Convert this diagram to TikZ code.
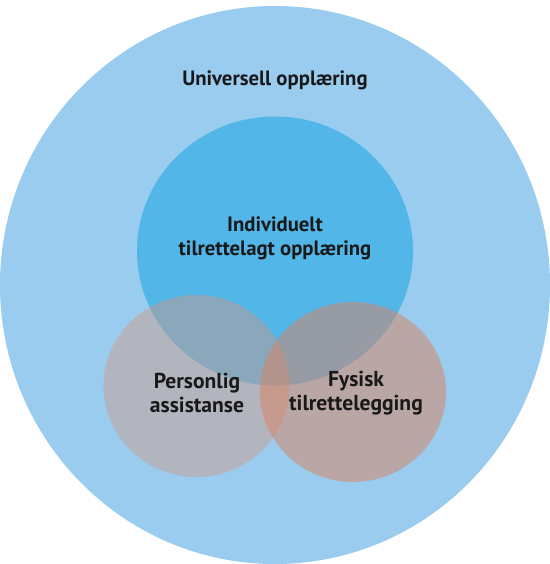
\documentclass[tikz,border=0pt]{standalone}
\usepackage{fontspec}
\setmainfont{PT Sans}
\definecolor{outerblue}{RGB}{153,204,238}
\definecolor{midblue}{RGB}{82,182,232}
\definecolor{leftsalmon}{RGB}{210,150,130}
\definecolor{rightsalmon}{RGB}{221,130,96}
\begin{document}
\begin{tikzpicture}[x=0.02cm,y=-0.02cm, every node/.style={font=\bfseries\fontsize{11.8}{13.8}\selectfont, text=black!90, align=center},lab/.style={},small/.style={font=\bfseries\fontsize{12.3}{13.8}\selectfont},]
\useasboundingbox (0,0) rectangle (550,564);
\fill[outerblue] (275,285) ellipse [x radius=275, y radius=279];
\fill[midblue] (275,251) ellipse [x radius=138, y radius=134.5];
\fill[leftsalmon, fill opacity=0.44] (196.5,386) ellipse [x radius=93, y radius=91];
\fill[rightsalmon, fill opacity=0.5] (353,392) ellipse [x radius=93, y radius=90];
\node[lab] (univ) at (275,80) {Universell opplæring};
\node[lab] (indiv) at (275,238) {Individuelt\\tilrettelagt opplæring};
\node[lab,small] (pers) at (197,393) {Personlig\\assistanse};
\node[lab,small] (fys) at (356,393) {Fysisk\\tilrettelegging};
\end{tikzpicture}
\end{document}
